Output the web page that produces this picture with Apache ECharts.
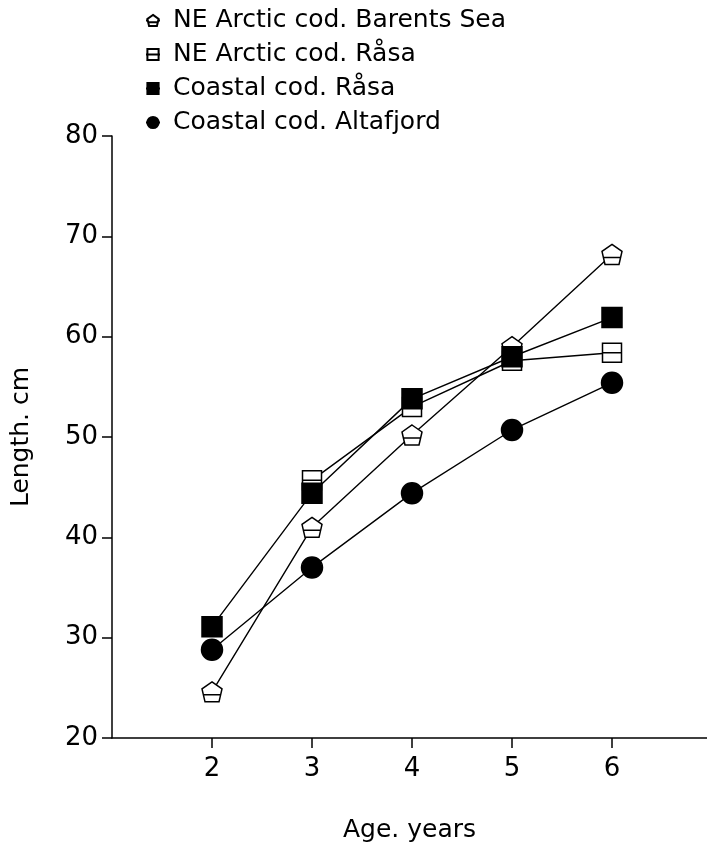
<!DOCTYPE html>
<html>
<head>
<meta charset="utf-8">
<script src="https://cdn.jsdelivr.net/npm/echarts@6/dist/echarts.min.js"></script>
<style>
  html, body { margin: 0; padding: 0; background: #fff; }
  #chart { width: 707px; height: 851px; }
</style>
</head>
<body>
<div id="chart"></div>
<script>
// ages (x) and mean length in cm (y)
var ages = [2, 3, 4, 5, 6];
var ageTicks = [2, 3, 4, 5, 6];
var barentsSea = [24.6, 41.0, 50.2, 59.0, 68.2];
var neArcticRasa = [null, 45.7, 53.0, 57.6, 58.4];
var coastalRasa = [31.1, 44.4, 53.8, 58.0, 61.9];
var coastalAltafjord = [28.8, 37.0, 44.4, 50.7, 55.4];

var seriesNames = [
  "NE Arctic cod. Barents Sea",
  "NE Arctic cod. Råsa",
  "Coastal cod. Råsa",
  "Coastal cod. Altafjord"
];

function pairs(vals) {
  var out = [];
  for (var i = 0; i < ages.length; i++) {
    if (vals[i] != null) out.push([ages[i], vals[i]]);
  }
  return out;
}

var FONT = "DejaVu Sans";
var pentagon = "path://M10,0 L20,7 L17,20 L3,20 L0,7 Z M2,13 L18,13";
var boxLine = "path://M0,0 L20,0 L20,20 L0,20 Z M0,10 L20,10";

var myChart = echarts.init(document.getElementById("chart"));

function lineSeries(name, vals, symbol, fill, size) {
  return {
    name: name,
    type: "line",
    data: pairs(vals),
    symbol: symbol,
    symbolSize: size,
    showAllSymbol: true,
    lineStyle: { color: "#000", width: 1.4 },
    itemStyle: { color: fill, borderColor: "#000", borderWidth: 1.5 },
    emphasis: { disabled: true },
    z: 2
  };
}

myChart.setOption({
  animation: false,
  backgroundColor: "#fff",
  legend: {
    orient: "vertical",
    left: 140,
    top: 3,
    itemGap: 9,
    itemWidth: 14,
    itemHeight: 14,
    textStyle: { fontFamily: FONT, fontSize: 25, color: "#000", padding: [0, 0, 0, 8] },
    data: seriesNames
  },
  grid: {
    left: 112,
    right: 0,
    top: 136,
    bottom: 113
  },
  xAxis: {
    type: "value",
    min: 1,
    max: 6.95,
    interval: 1,
    name: "Age. years",
    nameLocation: "middle",
    nameGap: 80,
    nameTextStyle: { fontFamily: FONT, fontSize: 25, color: "#000" },
    axisLine: { lineStyle: { color: "#000", width: 1.5 } },
    axisTick: { length: 10, lineStyle: { color: "#000", width: 1.5 }, customValues: ageTicks },
    axisLabel: { fontFamily: FONT, fontSize: 26, color: "#000", margin: 18, customValues: ageTicks },
    splitLine: { show: false }
  },
  yAxis: {
    type: "value",
    min: 20,
    max: 80,
    interval: 10,
    name: "Length. cm",
    nameLocation: "middle",
    nameGap: 78,
    nameTextStyle: { fontFamily: FONT, fontSize: 25, color: "#000" },
    axisLine: { show: true, lineStyle: { color: "#000", width: 1.5 } },
    axisTick: { show: true, length: 10, lineStyle: { color: "#000", width: 1.5 } },
    axisLabel: { fontFamily: FONT, fontSize: 26, color: "#000", margin: 14 },
    splitLine: { show: false }
  },
  series: [
    lineSeries(seriesNames[0], barentsSea, pentagon, "#fff", 20),
    lineSeries(seriesNames[1], neArcticRasa, boxLine, "#fff", 19),
    lineSeries(seriesNames[2], coastalRasa, "rect", "#000", 20),
    lineSeries(seriesNames[3], coastalAltafjord, "circle", "#000", 21)
  ]
});
</script>
</body>
</html>
